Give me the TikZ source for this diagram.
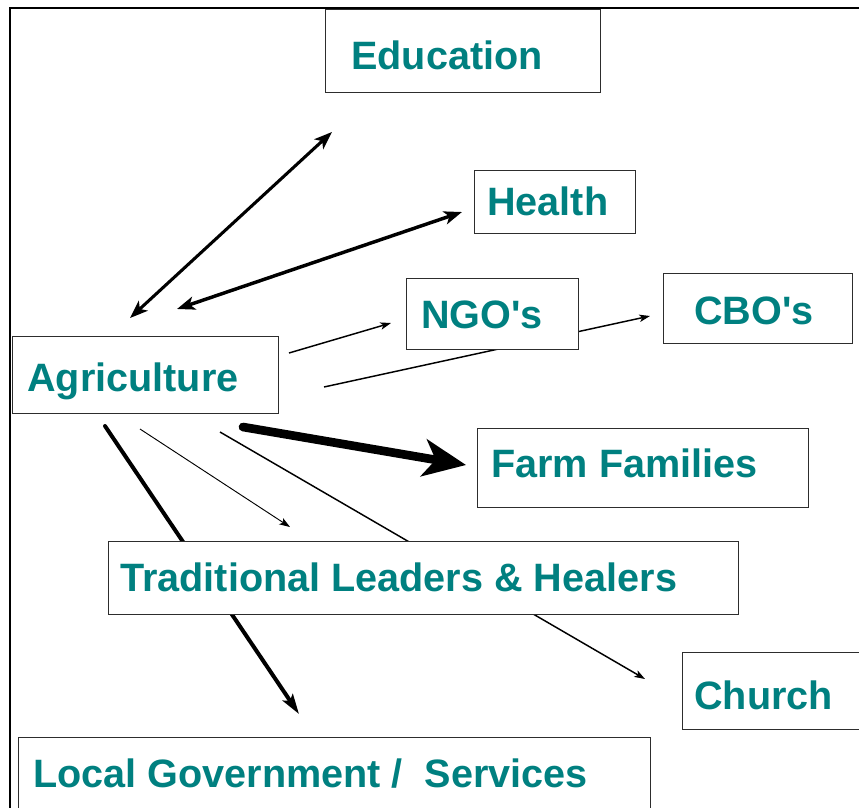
\documentclass[tikz,border=0pt]{standalone}
\usepackage{fontspec}
\setmainfont{Liberation Sans}
\usetikzlibrary{arrows.meta}
\definecolor{ink}{RGB}{0,128,128}
\definecolor{edge}{RGB}{45,45,45}
\pgfdeclarelayer{back}
\pgfsetlayers{back,main}
\begin{document}
\begin{tikzpicture}[x=0.75pt,y=-0.75pt,
  box/.style={draw=edge, line width=0.9pt, fill=white, inner sep=0pt, anchor=north west},
  lbl/.style={text=ink, font=\fontsize{29.7}{32}\selectfont\bfseries, inner sep=0pt, anchor=base west},
  smalltip/.style={-{Stealth[length=8pt,width=5.5pt,inset=2pt]}},
  twoway/.style={{Stealth[length=13.5pt,width=10pt,inset=3.5pt]}-{Stealth[length=13.5pt,width=10pt,inset=3.5pt]}},
  frame/.style={line width=1.6pt}]
\useasboundingbox (0,0) rectangle (859,807);

% boxes
\node[box, minimum width=275*0.75pt, minimum height=83*0.75pt] (edu) at (325,9) {};
\node[box, minimum width=161*0.75pt, minimum height=63*0.75pt] (health) at (474,170) {};
\node[box, minimum width=172*0.75pt, minimum height=71*0.75pt] (ngo) at (406,278) {};
\node[box, minimum width=189*0.75pt, minimum height=70*0.75pt] (cbo) at (663,273) {};
\node[box, minimum width=266*0.75pt, minimum height=77*0.75pt] (agri) at (12,336) {};
\node[box, minimum width=331*0.75pt, minimum height=79*0.75pt] (farm) at (477,428) {};
\node[box, minimum width=630*0.75pt, minimum height=73*0.75pt] (trad) at (108,541) {};
\node[box, minimum width=195*0.75pt, minimum height=77*0.75pt] (church) at (682,652) {};
\node[box, minimum width=632*0.75pt, minimum height=90*0.75pt] (local) at (18,737) {};

% labels
\node[lbl] (edu-t) at (351,69) {Education};
\node[lbl] (health-t) at (487,215) {Health};
\node[lbl] (ngo-t) at (421,328) {NGO\textquotesingle s};
\node[lbl] (cbo-t) at (694,324) {CBO\textquotesingle s};
\node[lbl] (agri-t) at (27,391) {Agriculture};
\node[lbl] (farm-t) at (491,477) {Farm Families};
\node[lbl] (trad-t) at (120,591) {Traditional Leaders \& Healers};
\node[lbl] (church-t) at (694,709) {Church};
\node[lbl] (local-t) at (33,787) {Local Government /\ \ Services};

% connector ends
\coordinate (eduA) at (130,318);   \coordinate (eduB) at (332,132);
\coordinate (healthA) at (177,309); \coordinate (healthB) at (462,212);
\coordinate (ngoA) at (289,353);   \coordinate (ngoB) at (391,323);
\coordinate (cboA) at (324,387);   \coordinate (cboB) at (650,316);
\coordinate (farmA) at (243,427);  \coordinate (farmB) at (466,465);
\coordinate (tradA) at (140,429);  \coordinate (tradB) at (290,527);
\coordinate (churchA) at (220,432); \coordinate (churchB) at (645,679);
\coordinate (localA) at (105,426); \coordinate (localB) at (299,714);
\coordinate (frameBL) at (10,830); \coordinate (frameTL) at (10,8); \coordinate (frameTR) at (880,8);

\begin{pgfonlayer}{back}
  \draw[frame] (frameBL) -- (frameTL) -- (frameTR);
  \draw[line width=2.3pt, twoway] (eduA) -- (eduB);
  \draw[line width=2.6pt, twoway] (healthA) -- (healthB);
  \draw[line width=1.1pt, smalltip] (ngoA) -- (ngoB);
  \draw[line width=1.1pt, smalltip] (cboA) -- (cboB);
  \draw[line width=6.5pt, line cap=round, -{Stealth[length=32pt,width=28pt,inset=9pt]}] (farmA) -- (farmB);
  \draw[line width=0.7pt, smalltip] (tradA) -- (tradB);
  \draw[line width=1.1pt, smalltip] (churchA) -- (churchB);
  \draw[line width=3pt, line cap=round, -{Stealth[length=15pt,width=9pt,inset=3pt]}] (localA) -- (localB);
\end{pgfonlayer}
\end{tikzpicture}
\end{document}
